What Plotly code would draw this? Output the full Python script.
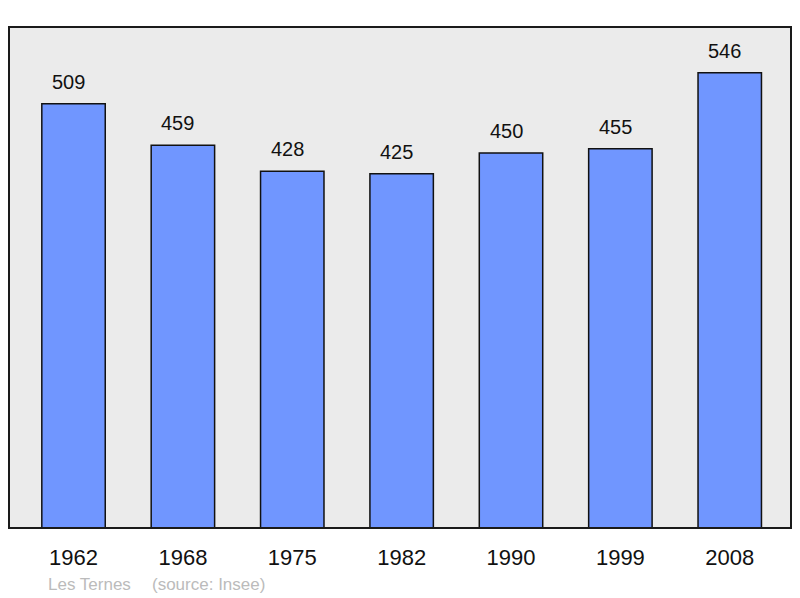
import plotly.graph_objects as go

years = ["1962", "1968", "1975", "1982", "1990", "1999", "2008"]
population = [509, 459, 428, 425, 450, 455, 546]
commune = "Les Ternes"
source = "(source: Insee)"

fig = go.Figure()

fig.add_trace(go.Bar(
    x=years,
    y=population,
    width=0.58,
    marker=dict(color="#7096ff", line=dict(color="#111111", width=1.5)),
    hoverinfo="x+y",
))

# value labels above bars (x by index, numeric-looking names confuse category lookup)
for i, val in enumerate(population):
    fig.add_annotation(x=i, y=val, text=str(val), showarrow=False,
                       yanchor="bottom", yshift=9, xshift=-5,
                       font=dict(size=20, color="#111111"))

fig.add_annotation(xref="paper", yref="paper", x=0.047, y=-0.112,
                   xanchor="left", yanchor="middle", text=commune,
                   showarrow=False, font=dict(size=17, color="#bbbbbb"))
fig.add_annotation(xref="paper", yref="paper", x=0.180, y=-0.112,
                   xanchor="left", yanchor="middle", text=source,
                   showarrow=False, font=dict(size=17, color="#bbbbbb"))

# frame round the plot area
fig.add_shape(type="rect", xref="paper", yref="paper", x0=0, y0=0, x1=1, y1=1,
              line=dict(color="#1a1a1a", width=2), layer="above")

fig.update_layout(
    width=800, height=598,
    margin=dict(l=9, r=9, t=27, b=70),
    plot_bgcolor="#ebebeb",
    paper_bgcolor="white",
    font=dict(family="Liberation Sans, Arial, sans-serif"),
    showlegend=False,
    xaxis=dict(type="category", range=[-0.59, 6.56], showgrid=False,
               ticks="outside", ticklen=10, tickcolor="rgba(0,0,0,0)",
               tickfont=dict(size=22, color="#111111"), fixedrange=True),
    yaxis=dict(range=[0, 601], showgrid=False, showticklabels=False,
               zeroline=False, fixedrange=True),
)

fig.write_html("out.html", config={"displayModeBar": False},
               post_script="document.body.style.margin='0';")
